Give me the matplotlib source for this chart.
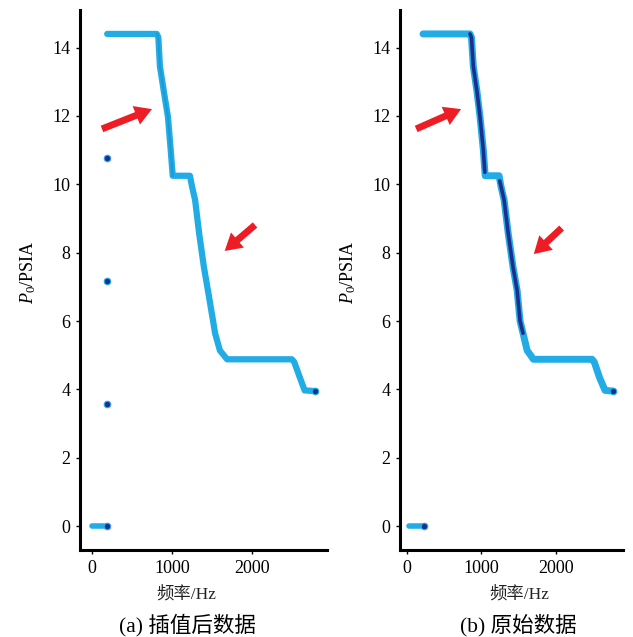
import matplotlib
matplotlib.use('Agg')
import matplotlib.pyplot as plt

plt.rcParams['font.family'] = ['Liberation Serif', 'Noto Sans CJK SC']
plt.rcParams['mathtext.fontset'] = 'custom'
plt.rcParams['mathtext.it'] = 'Liberation Serif:italic'
plt.rcParams['mathtext.rm'] = 'Liberation Serif'

LIGHT = '#22ACE6'
DARK = '#1C2F8E'
RED = '#EE1C25'

# ---- panel (a): interpolated data ----
a_zero_f = [0, 190]
a_zero_p = [0, 0]
a_line_f = [190, 810, 830, 850, 900, 950, 985, 1010, 1225, 1250, 1290, 1340, 1400,
            1450, 1515, 1540, 1600, 1690, 2500, 2530, 2600, 2660, 2790]
a_line_p = [14.4, 14.4, 14.3, 13.45, 12.7, 11.98, 11.0, 10.25, 10.25, 9.95, 9.54, 8.57, 7.58,
            6.9, 6.0, 5.64, 5.14, 4.88, 4.88, 4.8, 4.35, 3.97, 3.95]
a_dot_f = [190, 190, 190, 190, 2790]
a_dot_p = [10.77, 7.17, 3.56, 0.0, 3.95]

# ---- panel (b): original data ----
b_zero_f = [25, 225]
b_zero_p = [0, 0]
b_line_f = [212, 845, 865, 890, 940, 980, 1025, 1050, 1237, 1262, 1305, 1360, 1425,
            1480, 1520, 1560, 1615, 1700, 2490, 2520, 2590, 2665, 2770]
b_line_p = [14.4, 14.4, 14.3, 13.45, 12.7, 11.98, 11.0, 10.25, 10.25, 9.95, 9.54, 8.57, 7.58,
            6.9, 6.0, 5.64, 5.14, 4.88, 4.88, 4.8, 4.35, 3.97, 3.95]
b_steep1_f = [845, 865, 890, 940, 980, 1025, 1045]
b_steep1_p = [14.4, 14.3, 13.45, 12.7, 11.98, 11.0, 10.35]
b_steep2_f = [1245, 1262, 1305, 1360, 1425, 1480, 1520, 1560]
b_steep2_p = [10.1, 9.95, 9.54, 8.57, 7.58, 6.9, 6.0, 5.64]
b_dot_f = [225, 2770]
b_dot_p = [0.0, 3.95]

xticks = [0, 1000, 2000]
yticks = [0, 2, 4, 6, 8, 10, 12, 14]

W, H = 633, 637
fig = plt.figure(figsize=(W / 100, H / 100), dpi=100)


def setup(ax):
    for s in ['top', 'right']:
        ax.spines[s].set_visible(False)
    for s in ['left', 'bottom']:
        ax.spines[s].set_linewidth(2.2)
    ax.set_xticks(xticks)
    ax.set_yticks(yticks)
    ax.tick_params(direction='out', length=3, width=1, labelsize=13, pad=4)
    ax.set_ylim(-0.70, 15.1)


def arrow(ax, tail, head):
    ax.annotate('', xy=head, xytext=tail,
                arrowprops=dict(arrowstyle='simple,head_width=1.3,head_length=1.1,tail_width=0.45',
                                color=RED, lw=0, mutation_scale=11, shrinkA=0, shrinkB=0))


# (a)
ax1 = fig.add_axes([80 / W, 1 - 550 / H, 247 / W, 540 / H])
setup(ax1)
ax1.set_xlim(-150, 2940)
ax1.plot(a_zero_f, a_zero_p, color=LIGHT, lw=4, solid_capstyle='round')
ax1.plot(a_line_f, a_line_p, color=LIGHT, lw=4.5, solid_capstyle='round', solid_joinstyle='round')
ax1.plot(a_line_f[1:8], a_line_p[1:8], color='#1590CC', lw=1.5, alpha=0.6)
ax1.scatter(a_dot_f, a_dot_p, s=22, color=DARK, edgecolors=LIGHT, linewidths=0.8, zorder=5)
arrow(ax1, (125, 11.62), (750, 12.2))
arrow(ax1, (2040, 8.81), (1660, 8.05))

# (b)
ax2 = fig.add_axes([400 / W, 1 - 550 / H, 223 / W, 540 / H])
setup(ax2)
ax2.set_xlim(-98, 2907)
ax2.plot(b_zero_f, b_zero_p, color=LIGHT, lw=4, solid_capstyle='round')
ax2.plot(b_line_f, b_line_p, color=LIGHT, lw=5, solid_capstyle='round', solid_joinstyle='round')
ax2.plot(b_steep1_f, b_steep1_p, color=DARK, lw=2.6, solid_capstyle='round')
ax2.plot(b_steep2_f, b_steep2_p, color=DARK, lw=2.6, solid_capstyle='round')
ax2.scatter(b_dot_f, b_dot_p, s=22, color=DARK, edgecolors=LIGHT, linewidths=0.8, zorder=5)
arrow(ax2, (120, 11.62), (725, 12.2))
arrow(ax2, (2080, 8.72), (1705, 7.96))

fam = ['Liberation Serif', 'Noto Sans CJK SC']
for xc in (28, 348):
    fig.text(xc / W, 1 - 272 / H, '$P_0$/PSIA', rotation=90, ha='center', va='center',
             fontsize=13)
fig.text(186 / W, 1 - 594 / H, '频率/Hz', ha='center', va='center', fontsize=12.5,
         color='#222222', family=fam)
fig.text(519 / W, 1 - 594 / H, '频率/Hz', ha='center', va='center', fontsize=12.5,
         color='#222222', family=fam)
fig.text(187 / W, 1 - 625 / H, '(a) 插值后数据', ha='center', va='center', fontsize=15.5,
         family=fam)
fig.text(518 / W, 1 - 625 / H, '(b) 原始数据', ha='center', va='center', fontsize=15.5,
         family=fam)

fig.savefig('out.png', dpi=100)
